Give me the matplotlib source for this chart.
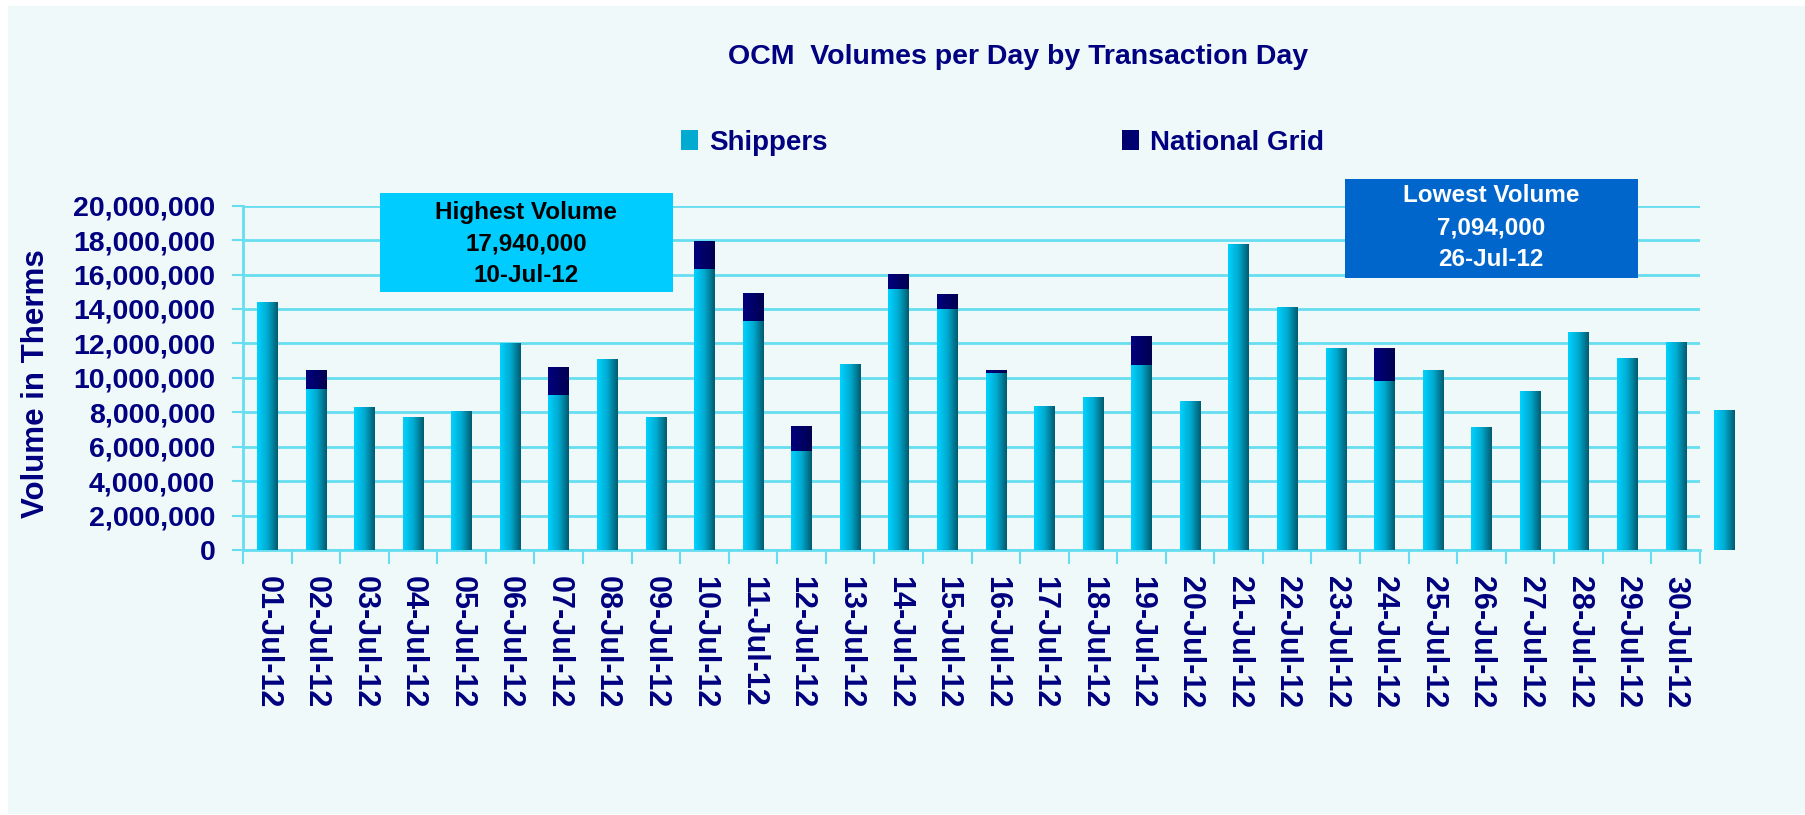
import numpy as np
import matplotlib.pyplot as plt
from matplotlib.colors import LinearSegmentedColormap
from matplotlib.patches import Rectangle
from matplotlib.ticker import FuncFormatter

plt.rcParams['font.family'] = ['Liberation Sans', 'DejaVu Sans']
plt.rcParams['font.weight'] = 'bold'

NAVY = '#000080'
GRID = '#66DDF0'

days = ['01-Jul-12', '02-Jul-12', '03-Jul-12', '04-Jul-12', '05-Jul-12',
        '06-Jul-12', '07-Jul-12', '08-Jul-12', '09-Jul-12', '10-Jul-12',
        '11-Jul-12', '12-Jul-12', '13-Jul-12', '14-Jul-12', '15-Jul-12',
        '16-Jul-12', '17-Jul-12', '18-Jul-12', '19-Jul-12', '20-Jul-12',
        '21-Jul-12', '22-Jul-12', '23-Jul-12', '24-Jul-12', '25-Jul-12',
        '26-Jul-12', '27-Jul-12', '28-Jul-12', '29-Jul-12', '30-Jul-12']

# 31 bars in the source, the last one has no label (31-Jul)
shippers = np.array([14.40, 9.35, 8.25, 7.67, 8.02, 11.98, 9.00, 11.04, 7.67, 16.32,
                     13.30, 5.75, 10.80, 15.16, 14.00, 10.28, 8.36, 8.83, 10.75, 8.60,
                     17.77, 14.06, 11.73, 9.82, 10.45, 7.094, 9.18, 12.66, 11.15, 12.08,
                     8.13]) * 1e6
national_grid = np.array([0, 1.10, 0, 0, 0, 0, 1.57, 0, 0, 1.62,
                          1.57, 1.45, 0, 0.85, 0.87, 0.17, 0, 0, 1.68, 0,
                          0, 0, 0, 1.91, 0, 0, 0, 0, 0, 0,
                          0]) * 1e6

fig = plt.figure(figsize=(18.05, 8.15), dpi=100)
fig.patch.set_facecolor('white')
fig.patches.append(Rectangle((8 / 1805, 1 / 815), 1, 1 - 7 / 815, transform=fig.transFigure,
                             facecolor='#F0F9F9', edgecolor='none', zorder=-10))

ax = fig.add_axes([243 / 1805, 1 - 550 / 815, (1700 - 243) / 1805, (550 - 205.7) / 815])
ax.set_facecolor('none')

x = np.arange(len(shippers))
width = 0.42
ship_cmap = LinearSegmentedColormap.from_list('ship', ['#00D2FF', '#00AAD0', '#005C70'])
ng_cmap = LinearSegmentedColormap.from_list('ng', ['#00007E', '#000050'])
grad = np.linspace(0, 1, 64).reshape(1, -1)

b1 = ax.bar(x, shippers, width, color='#00AAD0', label='Shippers', zorder=3, clip_on=False)
b2 = ax.bar(x, national_grid, width, bottom=shippers, color='#000070', label='National Grid',
            zorder=3, clip_on=False)

# horizontal gradient fill on each bar
for bars, cmap in [(b1, ship_cmap), (b2, ng_cmap)]:
    for p in bars:
        if p.get_height() <= 0:
            continue
        x0, y0 = p.get_x(), p.get_y()
        ax.imshow(grad, cmap=cmap, aspect='auto', zorder=4, clip_on=False,
                  extent=(x0, x0 + p.get_width(), y0, y0 + p.get_height()))

ax.set_xlim(-0.5, 29.5)
ax.set_ylim(0, 20e6)

ax.set_xticks(np.arange(len(days)))
ax.set_xticklabels(days, rotation=270, fontsize=22, color=NAVY, fontweight='bold')
ax.set_xticks(np.arange(-0.5, 30, 1), minor=True)
ax.tick_params(axis='x', which='major', length=0, pad=19)
ax.tick_params(axis='x', which='minor', length=10, color=GRID, width=1.5, direction='out')

ax.set_yticks(np.arange(0, 20e6 + 1, 2e6))
ax.yaxis.set_major_formatter(FuncFormatter(lambda v, p: f'{v:,.0f}'))
ax.tick_params(axis='y', length=8, color=GRID, width=1.5, pad=12, labelsize=20.5, labelcolor=NAVY)
for lab in ax.get_yticklabels():
    lab.set_fontweight('bold')

ax.grid(axis='y', color=GRID, linewidth=2, zorder=0)
ax.set_axisbelow(True)
for s in ['top', 'right']:
    ax.spines[s].set_visible(False)
for s in ['left', 'bottom']:
    ax.spines[s].set_color(GRID)
    ax.spines[s].set_linewidth(2)

fig.text(36 / 1805, 1 - 384 / 815, 'Volume in Therms', rotation=90, ha='center', va='center',
         fontsize=22.5, color=NAVY, fontweight='bold')

fig.text(1018 / 1805, 1 - 57 / 815, 'OCM  Volumes per Day by Transaction Day', ha='center',
         va='center', fontsize=20.5, color=NAVY, fontweight='bold')

leg = ax.legend(loc='center left', bbox_to_anchor=(681 / 1805, 1 - 143 / 815),
                bbox_transform=fig.transFigure, ncol=2, frameon=False, fontsize=20,
                handlelength=0.62, handleheight=0.75, handletextpad=0.38, columnspacing=10.6,
                borderpad=0, borderaxespad=0)
for t in leg.get_texts():
    t.set_color(NAVY)
    t.set_fontweight('bold')

# callout boxes
fig.patches.append(Rectangle((380 / 1805, 1 - 292 / 815), 293 / 1805, 99 / 815,
                             transform=fig.transFigure, facecolor='#00CCFF', edgecolor='none'))
fig.text(526 / 1805, 1 - 244 / 815, 'Highest Volume\n17,940,000\n10-Jul-12', ha='center',
         va='center', fontsize=17.5, color='black', fontweight='bold', linespacing=1.5)

fig.patches.append(Rectangle((1345 / 1805, 1 - 278 / 815), 293 / 1805, 99 / 815,
                             transform=fig.transFigure, facecolor='#0066CC', edgecolor='none'))
fig.text(1491 / 1805, 1 - 228 / 815, 'Lowest Volume\n7,094,000\n26-Jul-12', ha='center',
         va='center', fontsize=17.5, color='white', fontweight='bold', linespacing=1.5)

fig.savefig('out.png', dpi=100, facecolor=fig.get_facecolor())
